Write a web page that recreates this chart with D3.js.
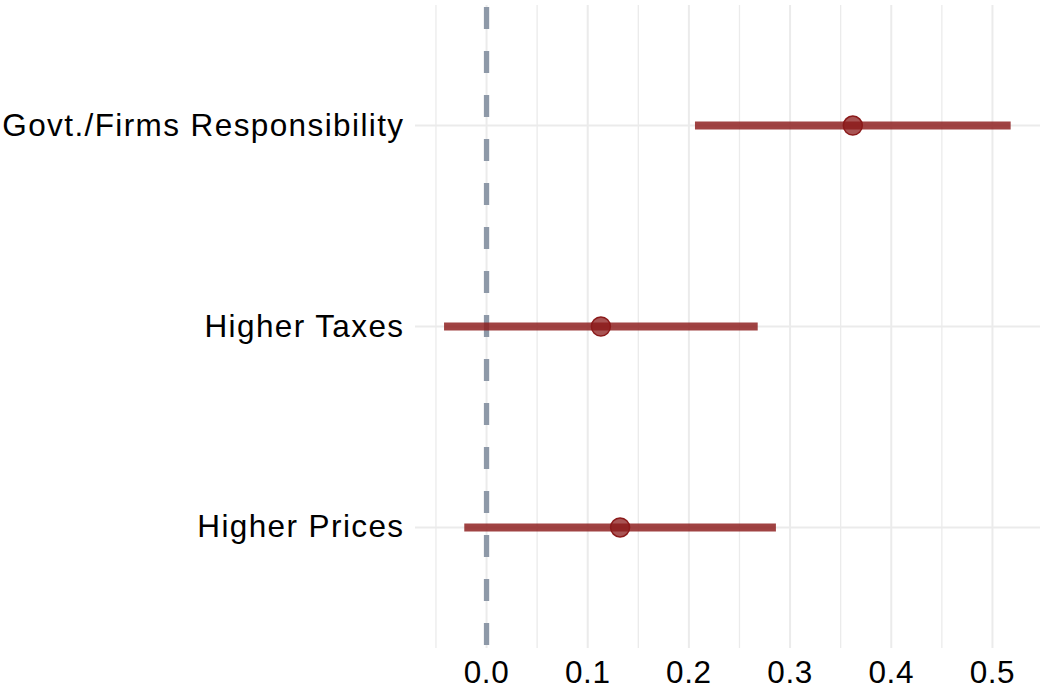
<!DOCTYPE html>
<html>
<head>
<meta charset="utf-8">
<script src="https://cdn.jsdelivr.net/npm/d3@7"></script>
<style>
  body { margin: 0; background: #fff; }
  text { font-family: "Liberation Sans", Arial, sans-serif; fill: #000; }
</style>
</head>
<body>
<svg id="chart" width="1044" height="689"></svg>
<script>
// estimates
var categories = ["Govt./Firms Responsibility", "Higher Taxes", "Higher Prices"];
var estimates = [0.362, 0.113, 0.132];
var lower = [0.206, -0.042, -0.022];
var upper = [0.518, 0.268, 0.286];
var xTicks = [0.0, 0.1, 0.2, 0.3, 0.4, 0.5];
var xMinor = [-0.05, 0.05, 0.15, 0.25, 0.35, 0.45];

var svg = d3.select('#chart');
var plotL = 415, plotR = 1040, plotT = 5, plotB = 648;

var x = d3.scaleLinear().domain([-0.0707, 0.547]).range([plotL, plotR]);
// discrete positions 1..3, ggplot-style 0.6 expansion
var y = d3.scaleLinear().domain([0.4, 3.6]).range([plotT, plotB]);

var data = categories.map(function (c, i) {
    return {cat: c, pos: i + 1, est: estimates[i], lo: lower[i], hi: upper[i]};
});

var grid = svg.append('g');
grid.selectAll('.minor').data(xMinor).enter().append('line')
    .attr('x1', function (d) { return x(d); }).attr('x2', function (d) { return x(d); })
    .attr('y1', plotT).attr('y2', plotB)
    .attr('stroke', '#ebebeb').attr('stroke-width', 1.3);
grid.selectAll('.major').data(xTicks).enter().append('line')
    .attr('x1', function (d) { return x(d); }).attr('x2', function (d) { return x(d); })
    .attr('y1', plotT).attr('y2', plotB)
    .attr('stroke', '#ebebeb').attr('stroke-width', 2);
grid.selectAll('.hgrid').data(data).enter().append('line')
    .attr('x1', plotL).attr('x2', plotR)
    .attr('y1', function (d) { return y(d.pos); }).attr('y2', function (d) { return y(d.pos); })
    .attr('stroke', '#ebebeb').attr('stroke-width', 2);

// zero reference
svg.append('line')
    .attr('x1', x(0)).attr('x2', x(0))
    .attr('y1', plotT + 2).attr('y2', plotB)
    .attr('stroke', '#8e99a8').attr('stroke-width', 5.3)
    .attr('stroke-dasharray', '22,22');

var marks = svg.append('g');
marks.selectAll('.ci').data(data).enter().append('line')
    .attr('x1', function (d) { return x(d.lo); })
    .attr('x2', function (d) { return x(d.hi); })
    .attr('y1', function (d) { return y(d.pos); })
    .attr('y2', function (d) { return y(d.pos); })
    .attr('stroke', '#8b1a1a').attr('stroke-opacity', 0.82)
    .attr('stroke-width', 8);
marks.selectAll('.pt').data(data).enter().append('circle')
    .attr('cx', function (d) { return x(d.est); })
    .attr('cy', function (d) { return y(d.pos); })
    .attr('r', 9.5)
    .attr('fill', '#8b1a1a').attr('fill-opacity', 0.75)
    .attr('stroke', '#8b1a1a').attr('stroke-width', 1.5);

// y labels
svg.selectAll('.ylab').data(data).enter().append('text')
    .attr('x', 404.5)
    .attr('y', function (d) { return y(d.pos) + 10; })
    .attr('text-anchor', 'end')
    .style('font-size', '31.5px')
    .style('letter-spacing', '1.4px')
    .text(function (d) { return d.cat; });

// x labels
svg.selectAll('.xlab').data(xTicks).enter().append('text')
    .attr('x', function (d) { return x(d); })
    .attr('y', 683)
    .attr('text-anchor', 'middle')
    .style('font-size', '31.5px')
    .style('letter-spacing', '0.6px')
    .text(function (d) { return d3.format('.1f')(d); });
</script>
</body>
</html>
